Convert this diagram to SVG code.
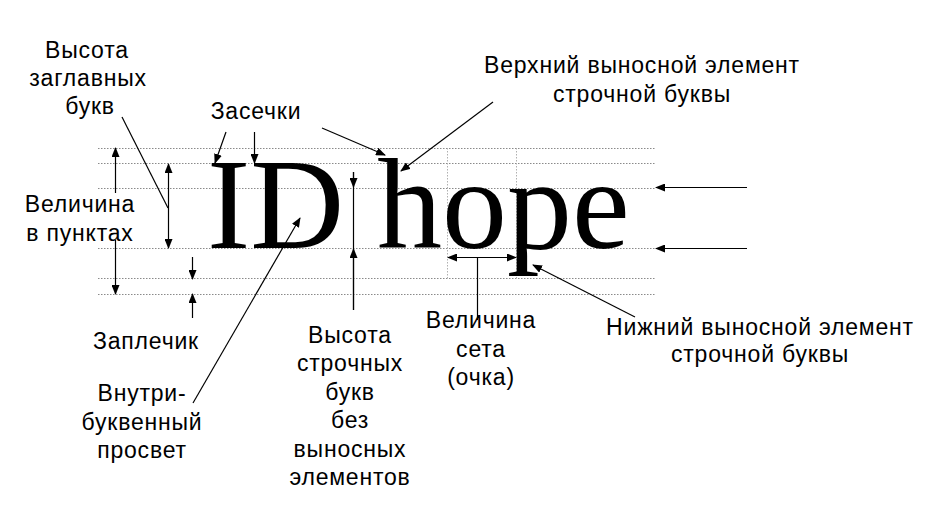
<svg xmlns="http://www.w3.org/2000/svg" width="937" height="507" viewBox="0 0 937 507">
<style>
.lbl{font-family:"Liberation Sans",Arial,sans-serif;font-size:23px;letter-spacing:0.8px;fill:#000;text-anchor:middle}
.big{font-family:"Liberation Serif","Times New Roman",serif;font-size:130px;fill:#000}
.guide{stroke:#8a8a8a;stroke-width:1;stroke-dasharray:1.5,1.5;fill:none}
.vguide{stroke:#b0b0b0;stroke-width:1;stroke-dasharray:1.5,1.5;fill:none}
.ln{stroke:#000;stroke-width:1.2;fill:none}
.ar{stroke:#000;stroke-width:1.2;fill:none;marker-end:url(#ah)}
.ar2{stroke:#000;stroke-width:1.2;fill:none;marker-start:url(#ahs);marker-end:url(#ah)}
</style>
<defs>
<marker id="ah" markerWidth="10" markerHeight="8" refX="9" refY="4" orient="auto" markerUnits="userSpaceOnUse">
<path d="M0,0 L10,4 L0,8 Z" fill="#000"/>
</marker>
<marker id="ahs" markerWidth="10" markerHeight="8" refX="1" refY="4" orient="auto" markerUnits="userSpaceOnUse">
<path d="M10,0 L0,4 L10,8 Z" fill="#000"/>
</marker>
</defs>
<rect width="937" height="507" fill="#fff"/>
<g id="guides">
<line class="guide" x1="98" y1="148.5" x2="655" y2="148.5"/>
<line class="guide" x1="98" y1="163.5" x2="655" y2="163.5"/>
<line class="guide" x1="98" y1="188.5" x2="655" y2="188.5"/>
<line class="guide" x1="98" y1="248.5" x2="655" y2="248.5"/>
<line class="guide" x1="98" y1="278.5" x2="655" y2="278.5"/>
<line class="guide" x1="98" y1="294.5" x2="655" y2="294.5"/>
<line class="vguide" x1="447.5" y1="148" x2="447.5" y2="278"/>
<line class="vguide" x1="516.5" y1="148" x2="516.5" y2="278"/>
</g>
<g id="sample">
<text class="big" x="207" y="248">ID</text>
<text class="big" x="377" y="248">hope</text>
</g>
<g id="connectors">
<line class="ln" x1="122" y1="117" x2="168" y2="208"/>
<line class="ar2" x1="168.5" y1="164" x2="168.5" y2="248"/>
<line class="ar" x1="115.5" y1="193" x2="115.5" y2="148"/>
<line class="ar" x1="115.5" y1="240" x2="115.5" y2="294"/>
<line class="ar" x1="192.5" y1="257" x2="192.5" y2="279"/>
<line class="ar" x1="192.5" y1="318" x2="192.5" y2="294"/>
<line class="ar" x1="193" y1="403" x2="300" y2="218"/>
<line class="ar" x1="226" y1="132" x2="215" y2="163"/>
<line class="ar" x1="254.5" y1="132" x2="254.5" y2="163"/>
<line class="ar" x1="322" y1="128" x2="385" y2="155"/>
<line class="ar" x1="493" y1="102" x2="401" y2="171"/>
<line class="ln" x1="353.5" y1="172" x2="353.5" y2="310"/>
<line class="ar" x1="353.5" y1="172" x2="353.5" y2="187"/>
<line class="ar" x1="353.5" y1="310" x2="353.5" y2="249"/>
<line class="ar2" x1="448" y1="257.5" x2="516" y2="257.5"/>
<line class="ln" x1="477.5" y1="257" x2="477.5" y2="320"/>
<line class="ar" x1="747" y1="187.5" x2="656" y2="187.5"/>
<line class="ar" x1="747" y1="248.5" x2="656" y2="248.5"/>
<line class="ar" x1="635" y1="317" x2="533" y2="265"/>
</g>
<g id="cap-height">
<text class="lbl" x="87" y="58">Высота</text>
<text class="lbl" x="88" y="86">заглавных</text>
<text class="lbl" x="90" y="114">букв</text>
</g>
<g id="point-size">
<text class="lbl" x="80" y="212">Величина</text>
<text class="lbl" x="80" y="241">в пунктах</text>
</g>
<g id="serifs">
<text class="lbl" x="256" y="119">Засечки</text>
</g>
<g id="ascender">
<text class="lbl" x="642" y="73">Верхний выносной элемент</text>
<text class="lbl" x="642" y="102">строчной буквы</text>
</g>
<g id="shoulder">
<text class="lbl" x="146" y="349">Заплечик</text>
</g>
<g id="counter">
<text class="lbl" x="142" y="401">Внутри-</text>
<text class="lbl" x="142" y="430">буквенный</text>
<text class="lbl" x="142" y="458">просвет</text>
</g>
<g id="x-height">
<text class="lbl" x="350" y="343">Высота</text>
<text class="lbl" x="350" y="371">строчных</text>
<text class="lbl" x="350" y="400">букв</text>
<text class="lbl" x="350" y="428">без</text>
<text class="lbl" x="350" y="457">выносных</text>
<text class="lbl" x="350" y="485">элементов</text>
</g>
<g id="set-width">
<text class="lbl" x="481" y="328">Величина</text>
<text class="lbl" x="481" y="357">сета</text>
<text class="lbl" x="481" y="385">(очка)</text>
</g>
<g id="descender">
<text class="lbl" x="760" y="335">Нижний выносной элемент</text>
<text class="lbl" x="760" y="362">строчной буквы</text>
</g>
</svg>
